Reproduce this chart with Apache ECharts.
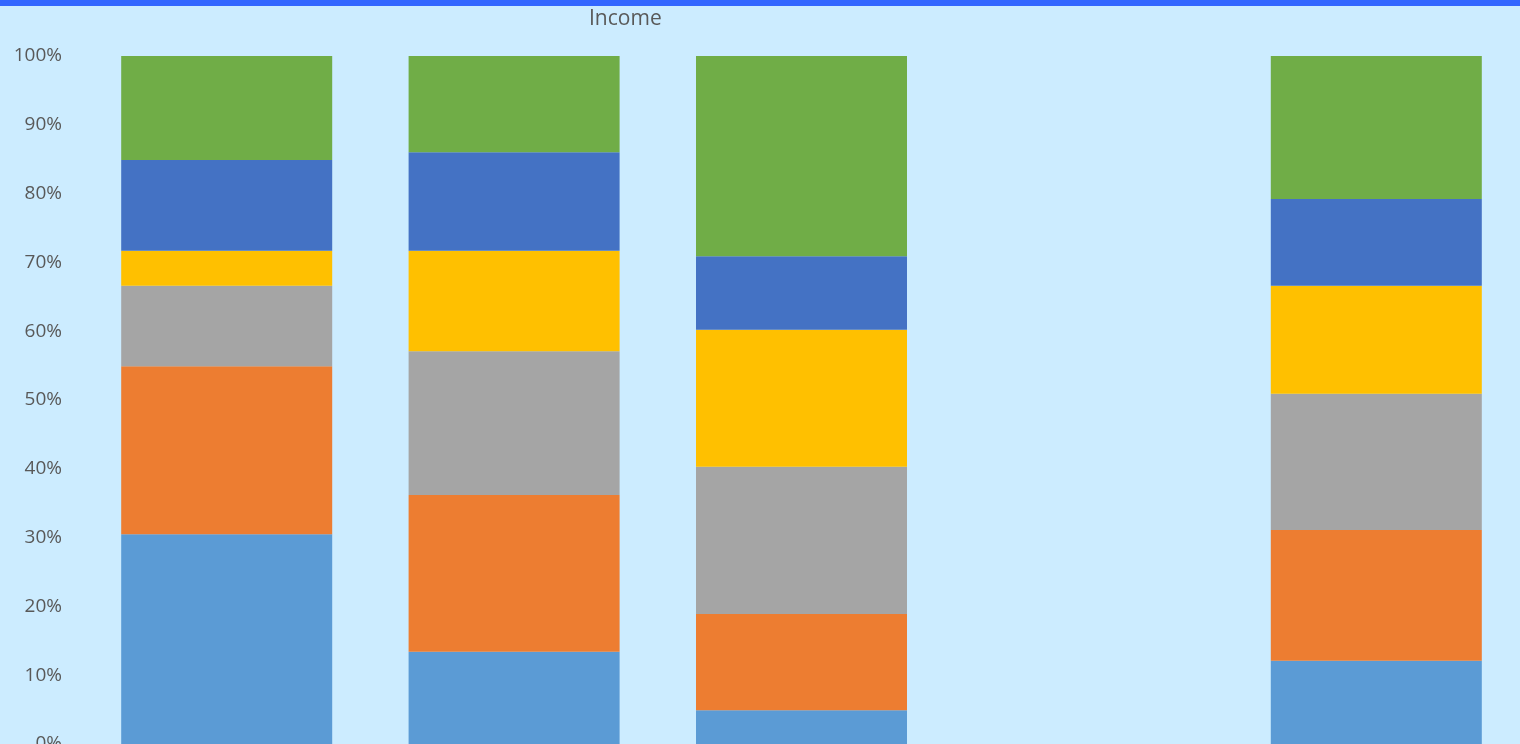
<!DOCTYPE html>
<html>
<head>
<meta charset="utf-8">
<script src="https://cdn.jsdelivr.net/npm/echarts@6/dist/echarts.min.js"></script>
<style>
  html, body { margin: 0; padding: 0; background: #CCECFF; }
  #chart { width: 1520px; height: 744px; }
</style>
</head>
<body>
<div id="chart"></div>
<script>
// Income mix per group, stacked to 100%
const categories = ['Group A', 'Group B', 'Group C', 'Group D', 'Group E'];
const seriesNames = ['Band 1', 'Band 2', 'Band 3', 'Band 4', 'Band 5', 'Band 6'];
const band1 = [30.5, 13.4, 4.9, null, 12.1];
const band2 = [24.4, 22.8, 14.0, null, 19.0];
const band3 = [11.7, 20.9, 21.4, null, 19.8];
const band4 = [5.1, 14.6, 19.9, null, 15.7];
const band5 = [13.2, 14.3, 10.7, null, 12.6];
const band6 = [15.1, 14.0, 29.1, null, 20.8];
const yTicks = [0, 10, 20, 30, 40, 50, 60, 70, 80, 90, 100];

const colors = ['#5B9BD5', '#ED7D31', '#A5A5A5', '#FFC000', '#4472C4', '#70AD47'];
const bands = [band1, band2, band3, band4, band5, band6];

const chart = echarts.init(document.getElementById('chart'), null, { renderer: 'canvas' });
chart.setOption({
  backgroundColor: '#CCECFF',
  animation: false,
  title: {
    text: 'Income',
    left: 584,
    top: 4,
    textStyle: { color: '#595959', fontSize: 21, fontWeight: 'normal', fontFamily: 'Open Sans' }
  },
  graphic: [{
    type: 'rect',
    shape: { x: 0, y: 0, width: 1520, height: 6 },
    style: { fill: '#3366FF' },
    z: 100
  }],
  grid: { left: 83, right: 0, top: 56, bottom: 0, containLabel: false, outerBoundsMode: 'none' },
  xAxis: {
    type: 'category',
    data: categories,
    axisTick: { show: false },
    axisLabel: { show: false },
    axisLine: { lineStyle: { color: '#B7C9D6' } }
  },
  yAxis: {
    type: 'value',
    min: yTicks[0],
    max: yTicks[yTicks.length - 1],
    interval: 10,
    splitLine: { show: false },
    axisLine: { show: false },
    axisTick: { show: false },
    axisLabel: {
      formatter: '{value}%',
      color: '#595959',
      fontSize: 19,
      fontFamily: 'Open Sans',
      margin: 21
    }
  },
  series: bands.map((d, i) => ({
    name: seriesNames[i],
    type: 'bar',
    stack: 'total',
    data: d,
    barWidth: 211,
    itemStyle: { color: colors[i] }
  }))
});
</script>
</body>
</html>
